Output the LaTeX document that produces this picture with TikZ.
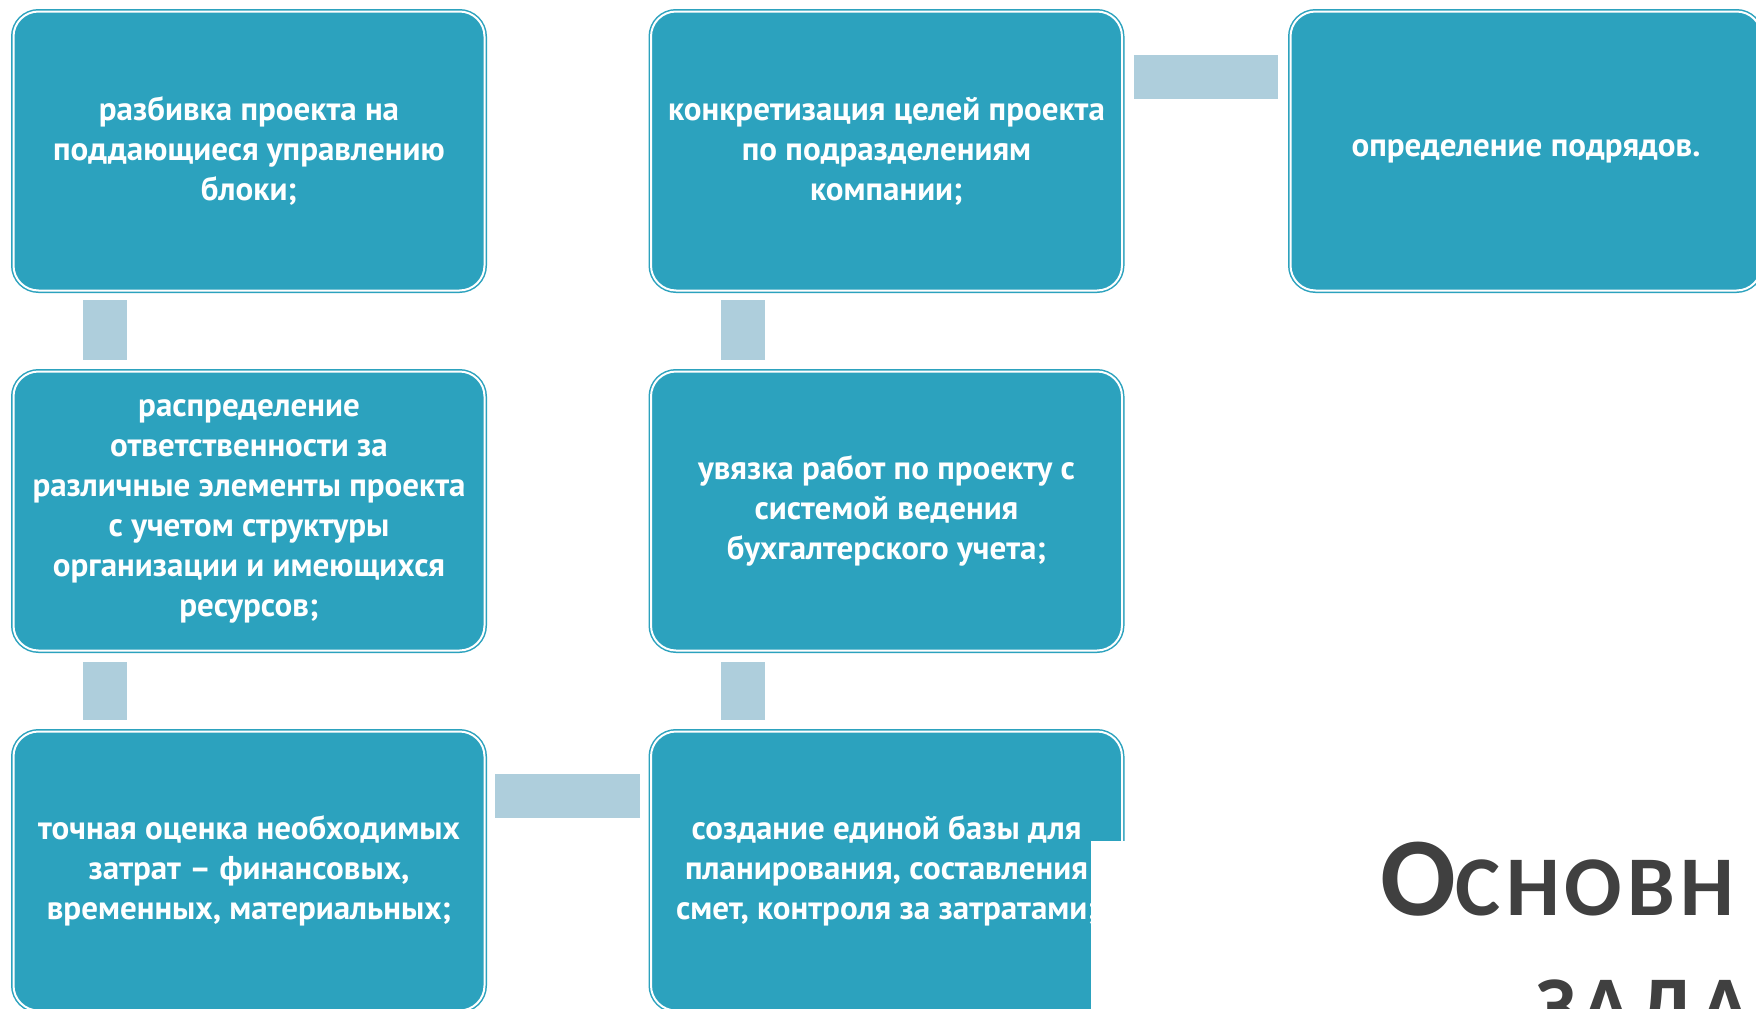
\documentclass[tikz,border=0pt]{standalone}
\usepackage{fontspec}
\setmainfont{PT Sans}
\newfontfamily\titlefont[LetterSpace=6]{Carlito}
\definecolor{boxteal}{HTML}{2CA2BE}
\definecolor{connblue}{HTML}{AECEDC}
\definecolor{titlegray}{HTML}{404040}
\tikzset{
  stepbox/.style={rectangle, rounded corners=25pt, fill=boxteal, draw=boxteal,
    double=white, double distance=2pt, line width=1.5pt,
    minimum width=471pt, minimum height=279pt, inner sep=0pt,
    text=white, align=center, font=\bfseries\fontsize{33}{40}\selectfont},
  conn/.style={draw=connblue, line width=44pt, line cap=butt},
  titletext/.style={anchor=base west, inner sep=0pt, text=titlegray, font=\titlefont\bfseries},
}
\begin{document}
\begin{tikzpicture}[x=1pt,y=-1pt]
\path[use as bounding box] (0,0) rectangle (1756,1009);
\clip (0,0) rectangle (1756,1009);
\fill[white] (0,0) rectangle (1756,1009);

\node[stepbox] (a1) at (249,151) {разбивка проекта на\\поддающиеся управлению\\блоки;};
\node[stepbox] (a2) at (249,511) {распределение\\ответственности за\\различные элементы проекта\\с учетом структуры\\организации и имеющихся\\ресурсов;};
\node[stepbox] (a3) at (249,871) {точная оценка необходимых\\затрат – финансовых,\\временных, материальных;};
\node[stepbox] (b3) at (886.5,871) {создание единой базы для\\планирования, составления\\смет, контроля за затратами;};
\node[stepbox] (b2) at (886.5,511) {увязка работ по проекту с\\системой ведения\\бухгалтерского учета;};
\node[stepbox] (b1) at (886.5,151) {конкретизация целей проекта\\по подразделениям\\компании;};
\node[stepbox] (c1) at (1526,151) {определение подрядов.};

\draw[conn, shorten <=9pt, shorten >=11pt] ([xshift=92.5pt]a1.south west) -- ([xshift=92.5pt]a2.north west);
\draw[conn, shorten <=11pt, shorten >=11pt] ([xshift=92.5pt]a2.south west) -- ([xshift=92.5pt]a3.north west);
\draw[conn, shorten <=10pt, shorten >=10pt] ([yshift=-65pt]a3.north east) -- ([yshift=-65pt]b3.north west);
\draw[conn, shorten <=11pt, shorten >=11pt] ([xshift=92.5pt]b3.north west) -- ([xshift=92.5pt]b2.south west);
\draw[conn, shorten <=11pt, shorten >=9pt] ([xshift=92.5pt]b2.north west) -- ([xshift=92.5pt]b1.south west);
\draw[conn, shorten <=11pt, shorten >=12pt] ([yshift=-66.5pt]b1.north east) -- ([yshift=-66.5pt]c1.north west);

\fill[white] (1091,841) rectangle (1756,1009);

\node[titletext] (t1) at (1380,915)
  {\fontsize{112}{112}\selectfont О\fontsize{85}{85}\selectfont СНОВН};
\node[titletext] (t2) at (1535,1035)
  {\fontsize{85}{85}\selectfont ЗАДА};
\end{tikzpicture}
\end{document}
